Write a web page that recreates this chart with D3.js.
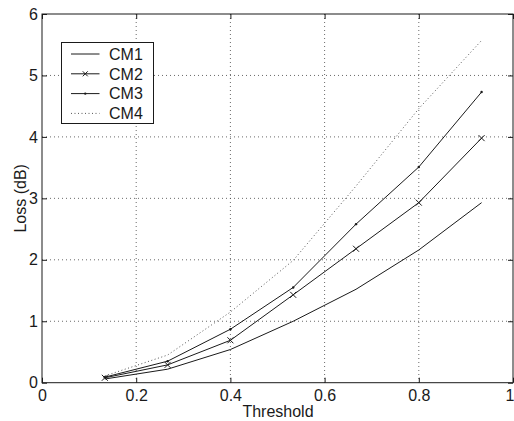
<!DOCTYPE html>
<html>
<head>
<meta charset="utf-8">
<script src="https://cdn.jsdelivr.net/npm/d3@7"></script>
<style>
  html, body { margin: 0; padding: 0; background: #fff; }
  svg { display: block; font-family: "Liberation Sans", Arial, Helvetica, sans-serif; }
</style>
</head>
<body>
<svg id="chart" width="514" height="421"></svg>
<script>
// Threshold values (x) shared by every channel model
const thresholds = [2/15, 4/15, 6/15, 8/15, 10/15, 12/15, 14/15];

// Loss in dB for each channel model
const cm1 = [0.06, 0.22, 0.54, 1.00, 1.52, 2.16, 2.93];
const cm2 = [0.08, 0.29, 0.69, 1.43, 2.18, 2.93, 3.98];
const cm3 = [0.09, 0.35, 0.87, 1.55, 2.58, 3.51, 4.73];
const cm4 = [0.11, 0.45, 1.15, 1.99, 3.20, 4.46, 5.57];

const seriesNames = ["CM1", "CM2", "CM3", "CM4"];
const xTicks = [0, 0.2, 0.4, 0.6, 0.8, 1];
const yTicks = [0, 1, 2, 3, 4, 5, 6];

const svg = d3.select("#chart");
const plotLeft = 42, plotRight = 513, plotTop = 14, plotBottom = 382.7;

const x = d3.scaleLinear().domain([0, 1]).range([plotLeft, plotRight]);
const y = d3.scaleLinear().domain([0, 6]).range([plotBottom, plotTop]);

const ink = "#1a1a1a";

// dotted grid
const grid = svg.append("g");
grid.selectAll("line.gx").data(xTicks.slice(1, -1)).join("line")
  .attr("x1", d => x(d)).attr("x2", d => x(d))
  .attr("y1", plotTop).attr("y2", plotBottom)
  .attr("stroke", "#444").attr("stroke-width", 0.8)
  .attr("stroke-dasharray", "1,3");
grid.selectAll("line.gy").data(yTicks.slice(1, -1)).join("line")
  .attr("x1", plotLeft).attr("x2", plotRight)
  .attr("y1", d => y(d)).attr("y2", d => y(d))
  .attr("stroke", "#444").attr("stroke-width", 0.8)
  .attr("stroke-dasharray", "1,3");

// axes with inward ticks on all four sides
function styleAxis(g) {
  g.select(".domain").remove();
  g.selectAll(".tick line").attr("stroke", ink);
  g.selectAll(".tick text").attr("fill", ink).style("font-size", "16px");
}
svg.append("g").attr("transform", `translate(0,${plotBottom})`)
  .call(d3.axisBottom(x).tickValues(xTicks).tickFormat(d3.format("~g")).tickSize(-5).tickPadding(7))
  .call(styleAxis)
  .call(g => g.selectAll(".tick text").filter(d => d === 1).attr("dx", -3.5));
svg.append("g").attr("transform", `translate(0,${plotTop})`)
  .call(d3.axisTop(x).tickValues(xTicks).tickFormat("").tickSize(-5))
  .call(styleAxis);
svg.append("g").attr("transform", `translate(${plotLeft},0)`)
  .call(d3.axisLeft(y).tickValues(yTicks).tickFormat(d3.format("d")).tickSize(-5).tickPadding(4))
  .call(styleAxis);
svg.append("g").attr("transform", `translate(${plotRight},0)`)
  .call(d3.axisRight(y).tickValues(yTicks).tickFormat("").tickSize(-5))
  .call(styleAxis);

// plot box
svg.append("rect")
  .attr("x", plotLeft).attr("y", plotTop)
  .attr("width", plotRight - plotLeft).attr("height", plotBottom - plotTop)
  .attr("fill", "none").attr("stroke", ink).attr("stroke-width", 1);

// series lines
const line = d3.line().x((d, i) => x(thresholds[i])).y(d => y(d));
const styles = [
  { data: cm1, dash: null, color: ink, width: 1 },
  { data: cm2, dash: null, color: ink, width: 1 },
  { data: cm3, dash: null, color: ink, width: 1 },
  { data: cm4, dash: "1,2.5", color: "#555", width: 1 }
];
styles.forEach(s => {
  svg.append("path").datum(s.data)
    .attr("d", line).attr("fill", "none")
    .attr("stroke", s.color).attr("stroke-width", s.width)
    .attr("stroke-dasharray", s.dash);
});

// x markers for CM2
function xMark(g, cx, cy, r) {
  g.append("path")
    .attr("d", `M${cx - r},${cy - r}L${cx + r},${cy + r}M${cx - r},${cy + r}L${cx + r},${cy - r}`)
    .attr("stroke", ink).attr("stroke-width", 1).attr("fill", "none");
}
const marks = svg.append("g");
cm2.forEach((v, i) => xMark(marks, x(thresholds[i]), y(v), 3));
// point markers for CM3
marks.selectAll("circle").data(cm3).join("circle")
  .attr("cx", (d, i) => x(thresholds[i])).attr("cy", d => y(d))
  .attr("r", 1.2).attr("fill", ink);

// axis titles
svg.append("text").attr("x", 278).attr("y", 417)
  .attr("text-anchor", "middle").style("font-size", "16px").attr("fill", ink)
  .text("Threshold");
svg.append("text")
  .attr("transform", `translate(26,${(plotTop + plotBottom) / 2}) rotate(-90)`)
  .attr("text-anchor", "middle").style("font-size", "16px").attr("fill", ink)
  .text("Loss (dB)");

// legend
const lg = svg.append("g");
lg.append("rect").attr("x", 61.5).attr("y", 42.5).attr("width", 92).attr("height", 81)
  .attr("fill", "#fff").attr("stroke", ink).attr("stroke-width", 1);
seriesNames.forEach((name, i) => {
  const ly = 54 + i * 19.8;
  const s = styles[i];
  lg.append("line").attr("x1", 71).attr("x2", 99.5).attr("y1", ly).attr("y2", ly)
    .attr("stroke", s.color).attr("stroke-width", s.width)
    .attr("stroke-dasharray", s.dash);
  if (i === 1) xMark(lg, 85.25, ly, 2.5);
  if (i === 2) lg.append("circle").attr("cx", 85.25).attr("cy", ly).attr("r", 1.2).attr("fill", ink);
  lg.append("text").attr("x", 109).attr("y", ly).attr("dy", "0.36em")
    .style("font-size", "16px").attr("fill", ink).text(name);
});
</script>
</body>
</html>
